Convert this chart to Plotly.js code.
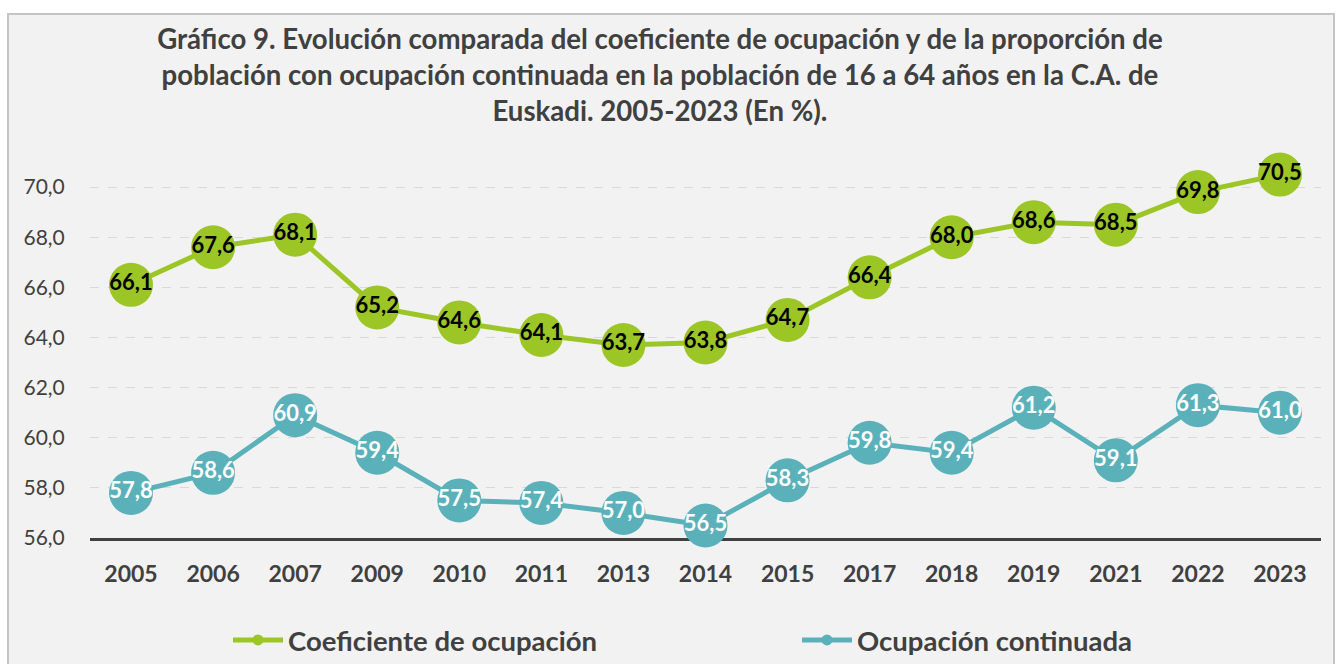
<!DOCTYPE html>
<html>
<head>
<meta charset="utf-8">
<script src="https://cdn.plot.ly/plotly-3.0.1.min.js"></script>
<style>
  html, body { margin:0; padding:0; background:#ffffff; width:1340px; height:664px; overflow:hidden; }
  #frame { position:absolute; left:7px; top:13px; width:1328px; height:700px; background:#f2f2f2; border:2px solid #c4c4c4; box-sizing:border-box; }
  #chart { position:absolute; left:0; top:0; width:1340px; height:664px; }
</style>
</head>
<body>
<div id="frame"></div>
<div id="chart"></div>
<script>
const years = ['2005','2006','2007','2009','2010','2011','2013','2014','2015','2017','2018','2019','2021','2022','2023'];
const coeficiente = [66.1, 67.6, 68.1, 65.2, 64.6, 64.1, 63.7, 63.8, 64.7, 66.4, 68.0, 68.6, 68.5, 69.8, 70.5];
const continuada = [57.8, 58.6, 60.9, 59.4, 57.5, 57.4, 57.0, 56.5, 58.3, 59.8, 59.4, 61.2, 59.1, 61.3, 61.0];
const seriesNames = ['Coeficiente de ocupación', 'Ocupación continuada'];
const yTicks = [56, 58, 60, 62, 64, 66, 68, 70];

const GREEN = '#9BC625';
const TEAL = '#5BB1BA';
const fmt = v => v.toFixed(1).replace('.', ',');
const FONT = 'Lato, "Open Sans", sans-serif';

function mainTrace(vals, color, txtColor) {
  return {
    x: years, y: vals, type: 'scatter', mode: 'lines+markers+text',
    line: {color: color, width: 5},
    marker: {color: color, size: 44},
    text: vals.map(fmt), textposition: 'middle center',
    textfont: {family: FONT, size: 22, color: txtColor, weight: 700},
    cliponaxis: false, showlegend: false, hoverinfo: 'skip'
  };
}
function legendTrace(name, color, legendId) {
  return {
    x: [null], y: [null], type: 'scatter', mode: 'lines+markers', name: name,
    line: {color: color, width: 5}, marker: {color: color, size: 11},
    showlegend: true, legend: legendId, hoverinfo: 'skip'
  };
}

const data = [
  mainTrace(coeficiente, GREEN, '#000000'),
  mainTrace(continuada, TEAL, '#ffffff'),
  legendTrace(seriesNames[0], GREEN, 'legend'),
  legendTrace(seriesNames[1], TEAL, 'legend2')
];

const legendFont = {family: FONT, size: 27.5, color: '#404040', weight: 700};

const layout = {
  width: 1340, height: 664,
  paper_bgcolor: 'rgba(0,0,0,0)', plot_bgcolor: 'rgba(0,0,0,0)',
  separators: ',.',
  margin: {l: 90, r: 19, t: 157, b: 126, autoexpand: false},
  title: {
    text: 'Gráfico 9. Evolución comparada del coeficiente de ocupación y de la proporción de<br>población con ocupación continuada en la población de 16 a 64 años en la C.A. de<br>Euskadi. 2005-2023 (En %).',
    font: {family: FONT, size: 27.6, color: '#404040', weight: 700},
    x: 0.4925, xref: 'container', xanchor: 'center',
    y: 1 - 49/664, yref: 'container', yanchor: 'top'
  },
  xaxis: {
    type: 'category', range: [-0.5, 14.5], showgrid: false, zeroline: false,
    showline: true, linecolor: '#404040', linewidth: 3,
    ticks: 'outside', ticklen: 13, tickcolor: 'rgba(0,0,0,0)',
    tickfont: {family: FONT, size: 23, color: '#404040', weight: 700},
    layer: 'below traces', fixedrange: true
  },
  yaxis: {
    range: [56, 71.2], tickvals: yTicks, tickformat: '.1f',
    showgrid: true, gridcolor: '#d9d9d9', griddash: 'dash', gridwidth: 1,
    zeroline: false, showline: false,
    ticks: 'outside', ticklen: 20, tickcolor: 'rgba(0,0,0,0)',
    tickfont: {family: FONT, size: 21, color: '#404040'},
    layer: 'below traces', fixedrange: true
  },
  legend: {
    orientation: 'h', xref: 'container', x: 228/1340, xanchor: 'left',
    yref: 'container', y: 1 - 640/664, yanchor: 'middle',
    itemwidth: 50, font: legendFont, bgcolor: 'rgba(0,0,0,0)'
  },
  legend2: {
    orientation: 'h', xref: 'container', x: 797/1340, xanchor: 'left',
    yref: 'container', y: 1 - 640/664, yanchor: 'middle',
    itemwidth: 50, font: legendFont, bgcolor: 'rgba(0,0,0,0)'
  },
  showlegend: true
};

Plotly.newPlot('chart', data, layout, {displayModeBar: false, staticPlot: true});
</script>
</body>
</html>
